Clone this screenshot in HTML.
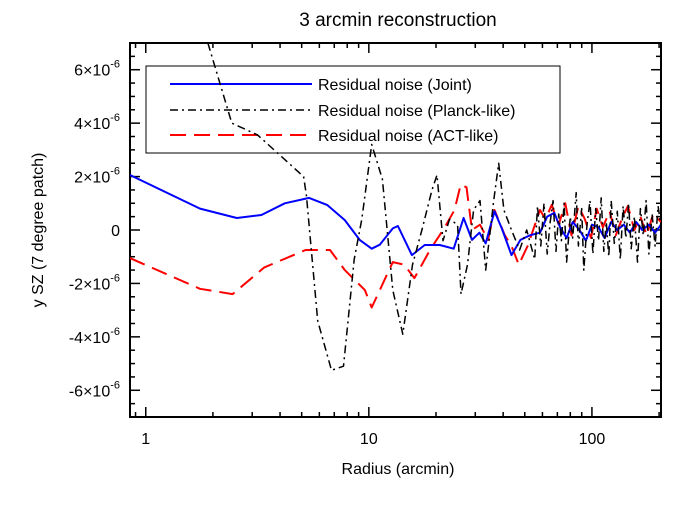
<!DOCTYPE html>
<html><head><meta charset="utf-8"><style>
body{margin:0;background:#fff}
svg text{font-family:"Liberation Sans",sans-serif;fill:#000}
</style></head><body>
<svg id="c" width="700" height="500" viewBox="0 0 700 500">
<rect width="700" height="500" fill="#fff"/>
<text x="398" y="26" font-size="19" text-anchor="middle">3 arcmin reconstruction</text>
<text x="398" y="474" font-size="16" text-anchor="middle">Radius (arcmin)</text>
<text transform="translate(43,230) rotate(-90)" font-size="16" text-anchor="middle">y SZ (7 degree patch)</text>
<g id="ax"></g>
<g>
<rect x="146" y="66" width="414" height="87" fill="none" stroke="#000" stroke-width="1"/>
<line x1="170" y1="84" x2="312" y2="84" stroke="#0000ff" stroke-width="2"/>
<text x="318" y="90" font-size="16">Residual noise (Joint)</text>
<line x1="170" y1="110" x2="312" y2="110" stroke="#000" stroke-width="1.5" stroke-dasharray="8,4,2,4"/>
<text x="318" y="116" font-size="16">Residual noise (Planck-like)</text>
<line x1="170" y1="135" x2="312" y2="135" stroke="#ff0000" stroke-width="2" stroke-dasharray="16,8"/>
<text x="318" y="141" font-size="16">Residual noise (ACT-like)</text>
</g>
<g id="series"></g>
</svg>
<script>
const planckR=[1.9,2.43,3.17,5.1,5.25,5.9,6.8,7.7,8.6,9.3,10.3,11.5,12.8,14.2,15.7,17.3,19.2,20.2,21.5,23,25,25.9,27.7,29.5,31.5,33.4,36.3,38.2,40.3,43.6,47.4,51,55.4,57,59,61,63,65,67,69,71,73,75,77,80,82,85,87,90,92,95,98,101,104,107,110,113,116,119,122,126,130,134,138,142,146,150,155,160,165,170,175,180,186,192,198,204];
const planckV=[7,4.0,3.56,2.0,1.3,-3.4,-5.25,-5.1,-1.1,0.4,3.2,1.9,-2.25,-3.9,-1.3,0,1.5,2.06,-0.4,0.4,0.2,-2.4,-1.3,0.75,1.1,-1.5,1.1,2.5,0.75,0,-0.75,0,-1.1,0.9,-0.6,1.0,-0.9,0.3,1.1,-0.8,0.6,-0.4,1.0,-1.2,0.5,-0.3,1.4,-0.6,0.8,-1.5,0.2,1.1,-0.9,0.8,-0.4,1.2,-0.8,0.3,-1.0,1.1,-0.5,0.7,-1.1,0.9,-0.3,1.0,-0.7,0.5,-1.2,0.8,-0.2,1.1,-0.9,0.6,-0.6,0.9,0.1];
const jointR=[0.85,1.75,2.56,3.3,4.2,5.4,6.5,7.8,9.1,10.3,11.2,12.8,13.5,15.6,17.8,20.8,24,26.6,29,31.3,33.4,36.6,39.4,43.6,47.8,52.7,58.5,63,67.8,72,77,82,88,94,100,107,114,122,130,139,148,158,168,180,192,204];
const jointV=[2.06,0.8,0.45,0.56,1.0,1.2,0.94,0.37,-0.37,-0.7,-0.55,0.06,0.15,-0.94,-0.56,-0.56,-0.7,0.45,-0.37,-0.1,-0.5,0.7,0.07,-0.94,-0.37,-0.2,-0.1,0.5,0.64,0.1,-0.3,0.3,0.0,-0.4,0.2,0.1,-0.3,0.3,0.0,0.2,-0.1,0.3,0.0,0.2,-0.1,0.2];
const actR=[0.85,1.75,2.45,3.4,5.2,6.7,7.8,9.6,10.3,11.2,12.8,14.4,16,18.8,21.9,24.2,25.8,27.4,29,31.5,34.2,36.6,40.7,43.6,47,51.5,58.5,62,66,71,76,81,87,93,99,105,112,120,128,136,145,155,165,176,188,204];
const actV=[-1.05,-2.2,-2.4,-1.4,-0.75,-0.75,-1.5,-2.25,-2.9,-2.25,-1.2,-1.3,-1.8,-0.75,0.1,0.75,1.7,1.6,0,0.2,-0.37,0.75,-0.2,-0.6,-1.3,-0.6,0.75,0.4,0.94,0.2,1.0,-0.2,0.9,0.4,-0.3,0.8,0.1,0.7,-0.2,0.4,0.9,0.0,0.5,-0.2,0.6,0.3];
const yTicks=[-6,-4,-2,0,2,4,6];
const xMajor=[1,10,100];
const X0=130,X1=661,Y0=43,Y1=417;
const lx0=Math.log10(0.85),lx1=Math.log10(204);
const xs=r=>X0+(Math.log10(r)-lx0)/(lx1-lx0)*(X1-X0);
const ys=v=>Y0+(7-v)/14*(Y1-Y0);
const NS='http://www.w3.org/2000/svg';
function mk(tag,at,parent){const e=document.createElementNS(NS,tag);for(const k in at)e.setAttribute(k,at[k]);parent.appendChild(e);return e;}
const ax=document.getElementById('ax');
for(let d=0.1;d<=100;d*=10){for(let m=1;m<10;m++){const r=Math.round(d*m*1000)/1000;if(r<0.85||r>204)continue;const x=xs(r);const L=(m===1)?10:5;
const t1=mk('line',{x1:x,y1:Y1,x2:x,y2:Y1-L,stroke:'#000','stroke-width':1.5},ax);


const t2=mk('line',{x1:x,y1:Y0,x2:x,y2:Y0+L,stroke:'#000','stroke-width':1.5},ax);

}}
xMajor.forEach(r=>{const t=mk('text',{x:xs(r),y:Y1+27,'font-size':16,'text-anchor':'middle'},ax);t.textContent=String(r);

});
for(let v=-6.5;v<=6.5;v+=0.5){const y=ys(v);const L=(Math.abs(v%2)<1e-9)?10:5;
const t1=mk('line',{x1:X0,y1:y,x2:X0+L,y2:y,stroke:'#000','stroke-width':1.5},ax);


const t2=mk('line',{x1:X1,y1:y,x2:X1-L,y2:y,stroke:'#000','stroke-width':1.5},ax);

}
yTicks.forEach(v=>{const t=mk('text',{x:X0-10,y:ys(v)+6,'font-size':16,'text-anchor':'end'},ax);


if(v===0){t.textContent='0';}else{t.textContent=(v<0?'-':'')+Math.abs(v)+'×10';const s=mk('tspan',{dy:-8,'font-size':11},t);s.textContent='-6';}});
const fr=mk('rect',{x:X0,y:Y0,width:X1-X0,height:Y1-Y0,fill:'none',stroke:'#000','stroke-width':2},ax);


const sg=document.getElementById('series');
const cp=mk('clipPath',{id:'cl'},sg);mk('rect',{x:X0,y:Y0,width:X1-X0,height:Y1-Y0},cp);
function line(R,V,col,dash,w,name){const d=R.map((r,i)=>(i?'L':'M')+xs(r).toFixed(1)+','+ys(V[i]).toFixed(1)).join('');
const p=mk('path',{d:d,fill:'none',stroke:col,'stroke-width':w,'stroke-dasharray':dash,'clip-path':'url(#cl)','stroke-linejoin':'round'},sg);

}
line(actR,actV,'#ff0000','16,8',2,'act-like-line');
line(jointR,jointV,'#0000ff','none',2,'joint-line');
line(planckR,planckV,'#000','8,4,2,4',1.5,'planck-like-line');
</script>
</body></html>
